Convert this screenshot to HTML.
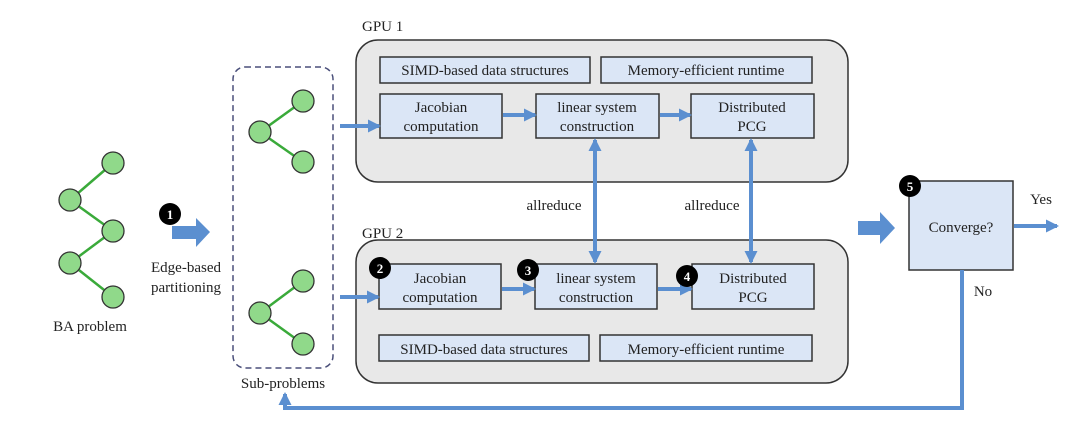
<!DOCTYPE html>
<html><head><style>
body{margin:0;background:#fff;}
svg text{font-family:"Liberation Serif","Times New Roman",serif;fill:#222;}
</style></head><body>
<svg width="1080" height="424" viewBox="0 0 1080 424" xmlns="http://www.w3.org/2000/svg" font-family="Liberation Serif, serif">
<defs>
<marker id="ah" markerWidth="13" markerHeight="13" refX="11" refY="6.5" orient="auto" markerUnits="userSpaceOnUse"><path d="M0,0 L13,6.5 L0,13z" fill="#5b8fd0"/></marker>
<marker id="as" markerWidth="13" markerHeight="13" refX="2" refY="6.5" orient="auto" markerUnits="userSpaceOnUse"><path d="M13,0 L0,6.5 L13,13z" fill="#5b8fd0"/></marker>
</defs>
<rect x="356" y="40" width="492" height="142" rx="22" fill="#e8e8e8" stroke="#333" stroke-width="1.5"/>
<rect x="356" y="240" width="492" height="143" rx="22" fill="#e8e8e8" stroke="#333" stroke-width="1.5"/>
<text x="362" y="31" font-size="15" font-family="Liberation Serif, serif">GPU 1</text>
<text x="362" y="238" font-size="15" font-family="Liberation Serif, serif">GPU 2</text>
<g fill="#dbe6f6" stroke="#333" stroke-width="1.5">
<rect x="380" y="57" width="210" height="26"/><rect x="601" y="57" width="211" height="26"/>
<rect x="380" y="94" width="122" height="44"/><rect x="536" y="94" width="123" height="44"/><rect x="691" y="94" width="123" height="44"/>
<rect x="379" y="264" width="122" height="45"/><rect x="535" y="264" width="122" height="45"/><rect x="692" y="264" width="122" height="45"/>
<rect x="379" y="335" width="210" height="26"/><rect x="600" y="335" width="212" height="26"/>
<rect x="909" y="181" width="104" height="89"/>
</g>
<g font-size="15" text-anchor="middle" font-family="Liberation Serif, serif">
<text x="485" y="75">SIMD-based data structures</text><text x="706" y="75">Memory-efficient runtime</text>
<text x="441" y="112">Jacobian</text><text x="441" y="131">computation</text>
<text x="597" y="112">linear system</text><text x="597" y="131">construction</text>
<text x="752" y="112">Distributed</text><text x="752" y="131">PCG</text>
<text x="440" y="283">Jacobian</text><text x="440" y="302">computation</text>
<text x="596" y="283">linear system</text><text x="596" y="302">construction</text>
<text x="753" y="283">Distributed</text><text x="753" y="302">PCG</text>
<text x="484" y="354">SIMD-based data structures</text><text x="706" y="354">Memory-efficient runtime</text>
<text x="961" y="232">Converge?</text>
<text x="1041" y="204">Yes</text><text x="983" y="296">No</text>
<text x="554" y="210">allreduce</text><text x="712" y="210">allreduce</text>
<text x="90" y="331">BA problem</text>
<text x="186" y="272">Edge-based</text><text x="186" y="292">partitioning</text>
<text x="283" y="388">Sub-problems</text>
</g>
<g stroke="#5b8fd0" stroke-width="4" fill="none">
<line x1="340" y1="126" x2="379" y2="126" marker-end="url(#ah)"/>
<line x1="340" y1="297" x2="378" y2="297" marker-end="url(#ah)"/>
<line x1="503" y1="115" x2="535" y2="115" marker-end="url(#ah)"/>
<line x1="660" y1="115" x2="690" y2="115" marker-end="url(#ah)"/>
<line x1="502" y1="289" x2="534" y2="289" marker-end="url(#ah)"/>
<line x1="658" y1="289" x2="691" y2="289" marker-end="url(#ah)"/>
<line x1="595" y1="140" x2="595" y2="262" marker-end="url(#ah)" marker-start="url(#as)"/>
<line x1="751" y1="140" x2="751" y2="262" marker-end="url(#ah)" marker-start="url(#as)"/>
<line x1="1014" y1="226" x2="1057" y2="226" marker-end="url(#ah)"/>
<polyline points="962,270 962,408 285,408 285,394" marker-end="url(#ah)"/>
</g>
<path d="M172,226 L196,226 L196,218 L210,232 L196,247 L196,239 L172,239z" fill="#5b8fd0"/>
<path d="M858,221 L880,221 L880,212 L895,228 L880,244 L880,235 L858,235z" fill="#5b8fd0"/>
<rect x="233" y="67" width="100" height="301" rx="12" fill="none" stroke="#4a4f7a" stroke-width="1.5" stroke-dasharray="6,4"/>
<g stroke="#3aaa3a" stroke-width="2.5">
<line x1="70" y1="200" x2="113" y2="163"/><line x1="70" y1="200" x2="113" y2="231"/>
<line x1="113" y1="231" x2="70" y2="263"/><line x1="70" y1="263" x2="113" y2="297"/>
<line x1="260" y1="132" x2="303" y2="101"/><line x1="260" y1="132" x2="303" y2="162"/>
<line x1="260" y1="313" x2="303" y2="281"/><line x1="260" y1="313" x2="303" y2="344"/>
</g>
<g fill="#90d98a" stroke="#333" stroke-width="1.3">
<circle cx="70" cy="200" r="11"/><circle cx="113" cy="163" r="11"/><circle cx="113" cy="231" r="11"/><circle cx="70" cy="263" r="11"/><circle cx="113" cy="297" r="11"/>
<circle cx="260" cy="132" r="11"/><circle cx="303" cy="101" r="11"/><circle cx="303" cy="162" r="11"/>
<circle cx="260" cy="313" r="11"/><circle cx="303" cy="281" r="11"/><circle cx="303" cy="344" r="11"/>
</g>
<g font-size="13" font-weight="bold" text-anchor="middle" font-family="Liberation Serif, serif">
<circle cx="170" cy="214" r="11" fill="#000"/><text x="170" y="219" style="fill:#fff">1</text>
<circle cx="380" cy="268" r="11" fill="#000"/><text x="380" y="273" style="fill:#fff">2</text>
<circle cx="528" cy="270" r="11" fill="#000"/><text x="528" y="275" style="fill:#fff">3</text>
<circle cx="687" cy="276" r="11" fill="#000"/><text x="687" y="281" style="fill:#fff">4</text>
<circle cx="910" cy="186" r="11" fill="#000"/><text x="910" y="191" style="fill:#fff">5</text>
</g>
</svg>
</body></html>
